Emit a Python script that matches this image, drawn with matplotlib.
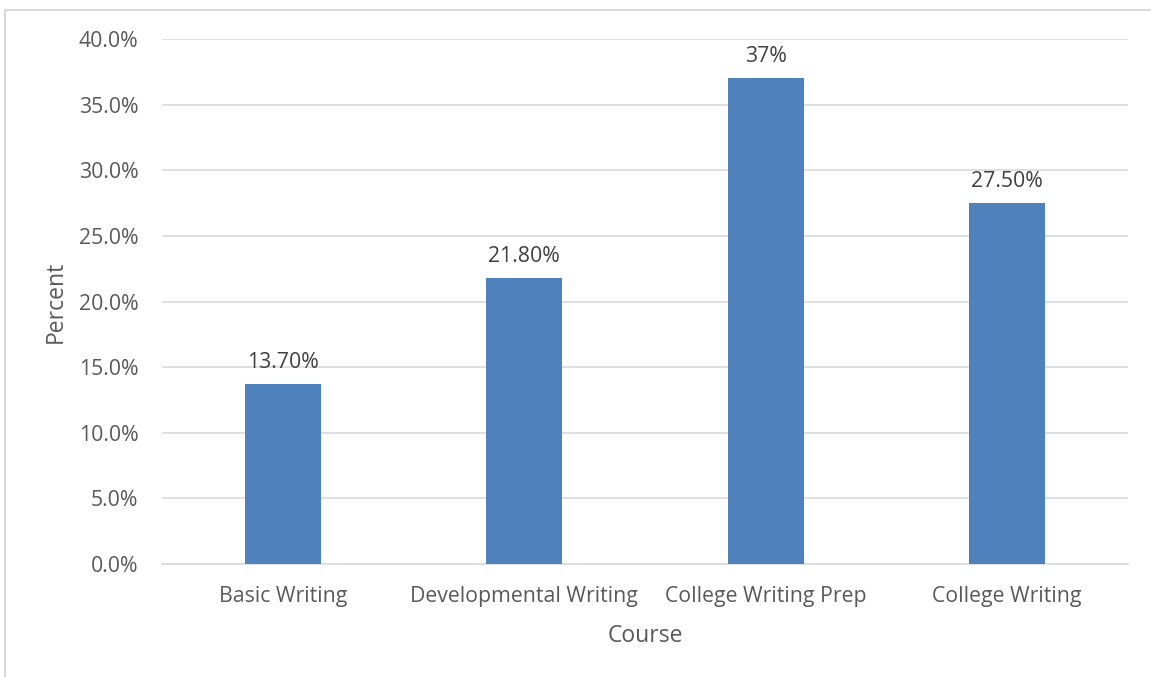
import matplotlib
matplotlib.use("Agg")
import matplotlib.pyplot as plt
from matplotlib.patches import Rectangle
from matplotlib.ticker import FuncFormatter, MultipleLocator

courses = ["Basic Writing", "Developmental Writing", "College Writing Prep", "College Writing"]
percents = [13.7, 21.8, 37.0, 27.5]
value_labels = ["13.70%", "21.80%", "37%", "27.50%"]

plt.rcParams["font.family"] = ["Open Sans", "DejaVu Sans"]
text_color = "#595959"
grid_color = "#d9d9d9"
bar_color = "#4f81bd"

W, H = 1151, 677
fig = plt.figure(figsize=(W / 100, H / 100), dpi=100)
fig.patch.set_facecolor("white")

# chart frame
fig.add_artist(Rectangle((5 / W, -0.05), 1.2, 1 - 10 / H + 0.05, transform=fig.transFigure,
                         fill=False, edgecolor=grid_color, linewidth=1.5))

ax = fig.add_axes([162 / W, 1 - 564 / H, (1128 - 162) / W, (564 - 39) / H])
x = range(len(courses))
bars = ax.bar(x, percents, width=0.315, color=bar_color, zorder=3)

ax.set_xlim(-0.5, len(courses) - 0.5)
ax.set_ylim(0, 40)
ax.yaxis.set_major_locator(MultipleLocator(5))
ax.yaxis.set_major_formatter(FuncFormatter(lambda v, _: f"{v:.1f}%"))
ax.grid(axis="y", color=grid_color, linewidth=1.2, zorder=0)

for s in ["top", "right", "left"]:
    ax.spines[s].set_visible(False)
ax.spines["bottom"].set_color(grid_color)
ax.spines["bottom"].set_linewidth(1.2)

ax.set_xticks(list(x))
ax.set_xticklabels(courses)
ax.tick_params(axis="both", length=0, labelsize=15.3, colors=text_color)
ax.tick_params(axis="x", pad=16)
ax.tick_params(axis="y", pad=17)

for rect, lbl in zip(bars, value_labels):
    ax.annotate(lbl, (rect.get_x() + rect.get_width() / 2, rect.get_height()),
                xytext=(0, 8), textcoords="offset points", ha="center", va="bottom",
                fontsize=15.3, color="#404040")

ax.set_xlabel("Course", fontsize=16.5, color=text_color, labelpad=12)
ax.set_ylabel("Percent", fontsize=16.5, color=text_color, labelpad=8)

fig.savefig("out.png", dpi=100)
